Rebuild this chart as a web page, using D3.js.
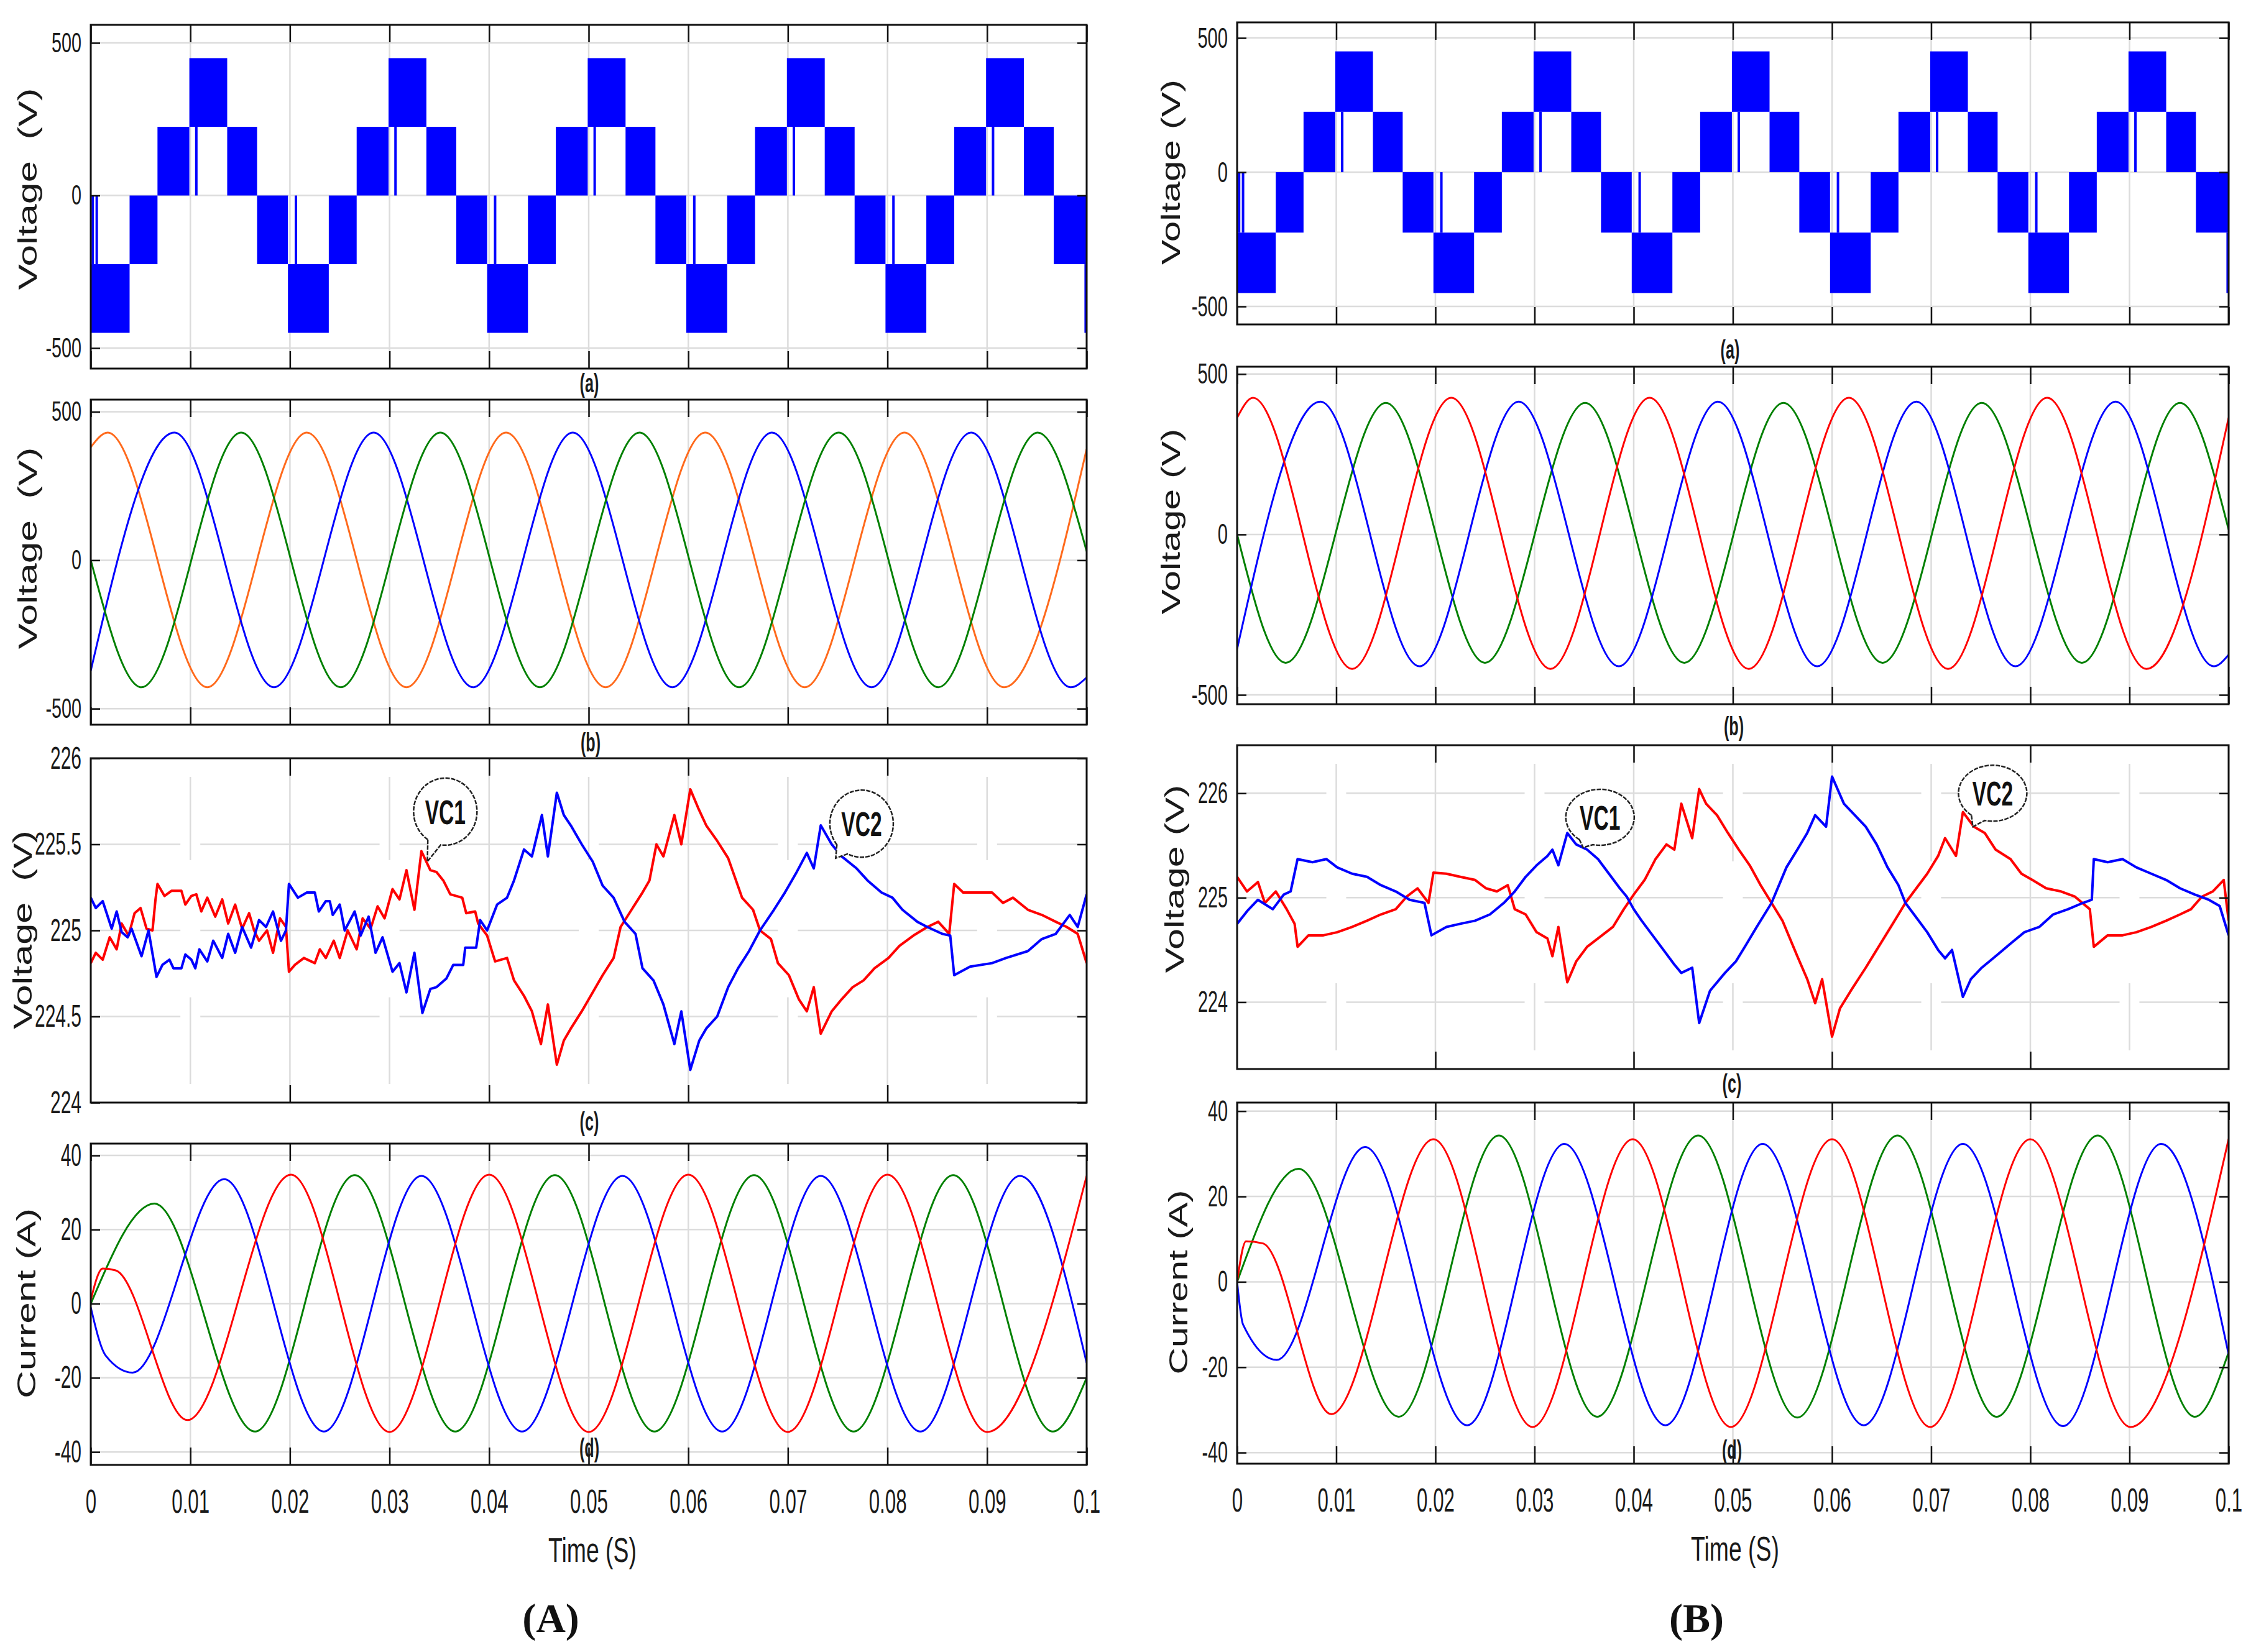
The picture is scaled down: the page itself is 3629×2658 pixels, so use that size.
<!DOCTYPE html>
<html>
<head>
<meta charset="utf-8">
<script src="https://cdn.jsdelivr.net/npm/d3@7"></script>
<style>
  html, body { margin: 0; padding: 0; background: #fff; }
  svg { display: block; }
</style>
</head>
<body>
<div id="chart"></div>
<script>
// ---------- data ----------
const timeTicks  = [0, 0.01, 0.02, 0.03, 0.04, 0.05, 0.06, 0.07, 0.08, 0.09, 0.1];
const timeLabels = ["0", "0.01", "0.02", "0.03", "0.04", "0.05", "0.06", "0.07", "0.08", "0.09", "0.1"];
const capTimeTicks = [0.02, 0.04, 0.06, 0.08];
const voltTicks  = [-500, 0, 500];
const capTicksA  = [224, 224.5, 225, 225.5, 226];
const capTicksB  = [224, 225, 226];
const currTicks  = [-40, -20, 0, 20, 40];

// multilevel inverter output: PWM bands [tStart, tEnd, low level, high level]
const invBands = [
  [0.0000, 0.0039, -450, -225], [0.0039, 0.0067, -225, 0], [0.0067, 0.0099, 0, 225],
  [0.0099, 0.0137, 225, 450],   [0.0137, 0.0167, 0, 225],  [0.0167, 0.0198, -225, 0],
  [0.0198, 0.0239, -450, -225], [0.0239, 0.0267, -225, 0], [0.0267, 0.0299, 0, 225],
  [0.0299, 0.0337, 225, 450],   [0.0337, 0.0367, 0, 225],  [0.0367, 0.0398, -225, 0],
  [0.0398, 0.0439, -450, -225], [0.0439, 0.0467, -225, 0], [0.0467, 0.0499, 0, 225],
  [0.0499, 0.0537, 225, 450],   [0.0537, 0.0567, 0, 225],  [0.0567, 0.0598, -225, 0],
  [0.0598, 0.0639, -450, -225], [0.0639, 0.0667, -225, 0], [0.0667, 0.0699, 0, 225],
  [0.0699, 0.0737, 225, 450],   [0.0737, 0.0767, 0, 225],  [0.0767, 0.0798, -225, 0],
  [0.0798, 0.0839, -450, -225], [0.0839, 0.0867, -225, 0], [0.0867, 0.0899, 0, 225],
  [0.0899, 0.0937, 225, 450],   [0.0937, 0.0967, 0, 225],  [0.0967, 0.1000, -225, 0]
];
// isolated switching spikes [t, from, to]
const invSpikes = [
  [0.0002, -225, 0], [0.0006, -225, 0], [0.0106, 0, 225], [0.0206, -225, 0],
  [0.0306, 0, 225], [0.0406, -225, 0], [0.0506, 0, 225], [0.0606, -225, 0],
  [0.0706, 0, 225], [0.0806, -225, 0], [0.0906, 0, 225], [0.0999, -450, -225]
];

// (b) load voltages, (t, V) at start, extrema, end
const vOrangeA = [[0,381],[0.0017,430],[0.0117,-428],[0.0217,430],[0.0317,-428],[0.0417,430],[0.0517,-428],[0.0617,430],[0.0717,-428],[0.0817,430],[0.0917,-428],[0.1,375]];
const vBlueA   = [[0,-372],[0.0084,430],[0.0184,-428],[0.0284,430],[0.0384,-428],[0.0484,430],[0.0584,-428],[0.0684,430],[0.0784,-428],[0.0884,430],[0.0984,-428],[0.1,-395]];
const vGreenA  = [[0,0],[0.0051,-428],[0.0151,430],[0.0251,-428],[0.0351,430],[0.0451,-428],[0.0551,430],[0.0651,-428],[0.0751,430],[0.0851,-428],[0.0951,430],[0.1,30]];
const vRedB    = [[0,364],[0.0016,426],[0.0116,-419],[0.0216,426],[0.0316,-419],[0.0416,426],[0.0516,-419],[0.0617,426],[0.0717,-419],[0.0817,426],[0.0917,-419],[0.1,364]];
const vBlueB   = [[0,-357],[0.0084,414],[0.0184,-411],[0.0284,414],[0.0385,-411],[0.0485,414],[0.0585,-411],[0.0685,414],[0.0785,-411],[0.0886,414],[0.0985,-411],[0.1,-375]];
const vGreenB  = [[0,0],[0.0049,-400],[0.0150,410],[0.0250,-400],[0.0351,410],[0.0451,-400],[0.0551,410],[0.0651,-400],[0.0751,410],[0.0852,-400],[0.0951,410],[0.1,15]];

// (c) capacitor voltages VC1 / VC2
const vc1A = [[0,224.81],[0.0005,224.87],[0.0012,224.83],[0.0019,224.96],[0.0026,224.89],[0.0031,225.04],[0.0038,224.97],[0.0044,225.10],[0.0050,225.13],[0.0056,225.01],[0.0062,225.00],[0.0065,225.18],[0.0067,225.27],[0.0074,225.20],[0.0081,225.23],[0.0091,225.23],[0.0095,225.15],[0.0101,225.20],[0.0106,225.21],[0.0111,225.11],[0.0117,225.19],[0.0125,225.08],[0.0132,225.18],[0.0138,225.04],[0.0145,225.15],[0.0152,225.01],[0.0159,225.10],[0.0164,225.00],[0.0169,224.94],[0.0177,225.00],[0.0183,224.87],[0.0190,225.07],[0.0196,225.02],[0.0199,224.76],[0.0205,224.80],[0.0214,224.84],[0.0225,224.81],[0.0230,224.89],[0.0236,224.84],[0.0244,224.94],[0.0250,224.84],[0.0258,225.00],[0.0267,224.89],[0.0273,225.07],[0.0281,225.01],[0.0288,225.14],[0.0295,225.07],[0.0303,225.24],[0.0310,225.18],[0.0317,225.35],[0.0325,225.12],[0.0332,225.46],[0.0341,225.35],[0.0347,225.34],[0.0354,225.29],[0.0361,225.21],[0.0373,225.19],[0.0377,225.10],[0.0386,225.11],[0.0389,225.04],[0.0398,224.97],[0.0406,224.82],[0.0418,224.84],[0.0425,224.71],[0.0435,224.62],[0.0443,224.53],[0.0452,224.34],[0.0459,224.57],[0.0468,224.22],[0.0475,224.36],[0.0482,224.43],[0.0493,224.53],[0.0504,224.64],[0.0514,224.74],[0.0525,224.84],[0.0532,225.02],[0.0543,225.12],[0.0554,225.22],[0.0561,225.29],[0.0568,225.50],[0.0575,225.43],[0.0586,225.67],[0.0593,225.50],[0.0602,225.82],[0.0610,225.71],[0.0618,225.61],[0.0629,225.52],[0.0640,225.42],[0.0654,225.19],[0.0665,225.12],[0.0672,225.00],[0.0683,224.95],[0.0690,224.81],[0.0701,224.74],[0.0711,224.60],[0.0719,224.53],[0.0726,224.67],[0.0733,224.40],[0.0744,224.53],[0.0754,224.60],[0.0765,224.67],[0.0776,224.71],[0.0787,224.78],[0.0801,224.84],[0.0812,224.91],[0.0826,224.97],[0.0840,225.02],[0.0851,225.05],[0.0862,224.98],[0.0867,225.27],[0.0876,225.22],[0.0890,225.22],[0.0905,225.22],[0.0916,225.16],[0.0926,225.19],[0.0941,225.12],[0.0955,225.09],[0.0969,225.05],[0.0980,225.02],[0.0991,224.98],[0.1,224.81]];
const vc2A = [[0,225.19],[0.0005,225.13],[0.0012,225.17],[0.0021,225.01],[0.0026,225.11],[0.0031,224.99],[0.0037,224.96],[0.0041,225.01],[0.0051,224.85],[0.0058,225.00],[0.0066,224.73],[0.0072,224.80],[0.0079,224.83],[0.0083,224.78],[0.0091,224.78],[0.0095,224.86],[0.0101,224.83],[0.0105,224.78],[0.0109,224.89],[0.0117,224.82],[0.0123,224.94],[0.0132,224.84],[0.0138,224.98],[0.0145,224.87],[0.0152,225.02],[0.0161,224.90],[0.0169,225.06],[0.0176,225.02],[0.0183,225.11],[0.0191,224.94],[0.0196,225.00],[0.0199,225.27],[0.0208,225.19],[0.0217,225.22],[0.0225,225.22],[0.0229,225.11],[0.0236,225.17],[0.0240,225.17],[0.0243,225.09],[0.0250,225.15],[0.0255,225.00],[0.0265,225.11],[0.0271,224.97],[0.0279,225.08],[0.0286,224.87],[0.0293,224.96],[0.0303,224.76],[0.0310,224.81],[0.0317,224.64],[0.0325,224.87],[0.0333,224.52],[0.0341,224.66],[0.0347,224.67],[0.0357,224.72],[0.0364,224.80],[0.0374,224.80],[0.0376,224.90],[0.0387,224.90],[0.0391,225.06],[0.0398,225.00],[0.0408,225.15],[0.0418,225.19],[0.0425,225.29],[0.0435,225.47],[0.0443,225.43],[0.0453,225.67],[0.0459,225.43],[0.0468,225.80],[0.0475,225.67],[0.0482,225.61],[0.0493,225.50],[0.0504,225.40],[0.0514,225.26],[0.0525,225.19],[0.0536,225.05],[0.0547,224.98],[0.0554,224.78],[0.0565,224.71],[0.0575,224.57],[0.0586,224.34],[0.0593,224.53],[0.0602,224.19],[0.0611,224.36],[0.0618,224.43],[0.0629,224.50],[0.0640,224.67],[0.0650,224.78],[0.0661,224.88],[0.0672,225.00],[0.0686,225.12],[0.0697,225.22],[0.0708,225.33],[0.0719,225.45],[0.0726,225.36],[0.0733,225.61],[0.0744,225.50],[0.0754,225.43],[0.0769,225.36],[0.0780,225.29],[0.0794,225.22],[0.0805,225.19],[0.0815,225.12],[0.0830,225.05],[0.0840,225.02],[0.0855,224.98],[0.0863,224.97],[0.0867,224.74],[0.0883,224.79],[0.0905,224.81],[0.0919,224.84],[0.0941,224.88],[0.0955,224.95],[0.0969,224.98],[0.0983,225.09],[0.0991,225.02],[0.1,225.21]];
const vcRedB = [[0,225.20],[0.0010,225.06],[0.0021,225.15],[0.0028,224.95],[0.0039,225.06],[0.0050,224.89],[0.0058,224.75],[0.0061,224.53],[0.0072,224.64],[0.0087,224.64],[0.0101,224.67],[0.0116,224.72],[0.0131,224.78],[0.0145,224.84],[0.0160,224.89],[0.0171,225.01],[0.0182,225.09],[0.0193,224.95],[0.0198,225.24],[0.0211,225.23],[0.0225,225.20],[0.0240,225.17],[0.0251,225.09],[0.0262,225.06],[0.0273,225.12],[0.0280,224.89],[0.0291,224.84],[0.0302,224.67],[0.0313,224.61],[0.0318,224.44],[0.0324,224.72],[0.0333,224.19],[0.0342,224.39],[0.0353,224.53],[0.0364,224.61],[0.0379,224.72],[0.0390,224.89],[0.0400,225.03],[0.0411,225.17],[0.0422,225.37],[0.0433,225.51],[0.0441,225.46],[0.0448,225.90],[0.0459,225.57],[0.0466,226.04],[0.0473,225.90],[0.0484,225.79],[0.0495,225.62],[0.0506,225.46],[0.0517,225.31],[0.0528,225.12],[0.0539,224.95],[0.0550,224.78],[0.0565,224.44],[0.0575,224.22],[0.0583,223.99],[0.0590,224.22],[0.0600,223.67],[0.0608,223.94],[0.0619,224.11],[0.0634,224.33],[0.0645,224.50],[0.0656,224.67],[0.0667,224.84],[0.0674,224.95],[0.0685,225.09],[0.0696,225.23],[0.0707,225.40],[0.0714,225.57],[0.0725,225.40],[0.0732,225.82],[0.0743,225.68],[0.0754,225.62],[0.0765,225.46],[0.0780,225.37],[0.0791,225.23],[0.0802,225.17],[0.0816,225.09],[0.0831,225.06],[0.0845,225.01],[0.0860,224.89],[0.0864,224.53],[0.0878,224.64],[0.0893,224.64],[0.0907,224.67],[0.0922,224.72],[0.0937,224.78],[0.0951,224.84],[0.0962,224.89],[0.0973,225.01],[0.0984,225.06],[0.0995,225.17],[0.1,224.78]];
const vcBlueB = [[0,224.75],[0.0010,224.87],[0.0021,224.98],[0.0036,224.89],[0.0047,225.03],[0.0054,225.06],[0.0061,225.37],[0.0076,225.34],[0.0090,225.37],[0.0101,225.29],[0.0116,225.23],[0.0131,225.20],[0.0145,225.12],[0.0160,225.06],[0.0174,224.98],[0.0189,224.95],[0.0196,224.64],[0.0211,224.72],[0.0225,224.75],[0.0240,224.78],[0.0255,224.84],[0.0269,224.95],[0.0280,225.06],[0.0291,225.20],[0.0302,225.31],[0.0313,225.40],[0.0318,225.46],[0.0324,225.31],[0.0333,225.62],[0.0342,225.51],[0.0353,225.46],[0.0364,225.37],[0.0375,225.23],[0.0386,225.09],[0.0393,225.01],[0.0400,224.89],[0.0408,224.78],[0.0419,224.64],[0.0430,224.50],[0.0441,224.36],[0.0448,224.28],[0.0459,224.33],[0.0466,223.80],[0.0477,224.11],[0.0492,224.28],[0.0503,224.39],[0.0514,224.56],[0.0524,224.72],[0.0539,224.95],[0.0554,225.29],[0.0565,225.46],[0.0575,225.62],[0.0583,225.79],[0.0594,225.68],[0.0600,226.16],[0.0612,225.90],[0.0623,225.79],[0.0634,225.68],[0.0645,225.51],[0.0656,225.29],[0.0667,225.12],[0.0674,224.95],[0.0685,224.81],[0.0696,224.67],[0.0707,224.50],[0.0714,224.42],[0.0721,224.50],[0.0732,224.05],[0.0740,224.22],[0.0751,224.33],[0.0765,224.44],[0.0780,224.56],[0.0794,224.67],[0.0809,224.72],[0.0823,224.84],[0.0838,224.89],[0.0853,224.95],[0.0862,224.98],[0.0864,225.37],[0.0878,225.34],[0.0893,225.37],[0.0907,225.29],[0.0922,225.23],[0.0937,225.17],[0.0951,225.09],[0.0966,225.03],[0.0980,224.98],[0.0991,224.92],[0.1,224.64]];

// (d) load currents
const iRedA   = [[0,1],[0.0012,9.5],[0.0025,9],[0.0097,-31.4],[0.0201,34.8],[0.0300,-34.6],[0.0400,34.8],[0.0500,-34.6],[0.0600,34.8],[0.0700,-34.6],[0.0800,34.8],[0.0900,-34.6],[0.1,34.5]];
const iGreenA = [[0,0],[0.0064,27],[0.0165,-34.5],[0.0265,34.7],[0.0366,-34.5],[0.0466,34.7],[0.0566,-34.5],[0.0666,34.7],[0.0766,-34.5],[0.0866,34.7],[0.0966,-34.5],[0.1,-20]];
const iBlueA  = [[0,-1],[0.0015,-14],[0.0042,-18.6],[0.0134,33.6],[0.0234,-34.5],[0.0332,34.5],[0.0433,-34.5],[0.0534,34.5],[0.0634,-34.5],[0.0733,34.5],[0.0833,-34.5],[0.0933,34.5],[0.1,-16]];
const iRedB   = [[0,0],[0.0009,9.5],[0.0026,9],[0.0095,-31],[0.0198,33.4],[0.0298,-34],[0.0399,33.4],[0.0498,-34],[0.0600,33.4],[0.0699,-34],[0.0800,33.4],[0.0901,-34],[0.1,33.5]];
const iGreenB = [[0,0],[0.0062,26.5],[0.0163,-31.6],[0.0264,34.3],[0.0363,-31.6],[0.0465,34.3],[0.0565,-31.8],[0.0666,34.3],[0.0766,-31.6],[0.0868,34.3],[0.0966,-31.6],[0.1,-16.5]];
const iBlueB  = [[0,0],[0.0006,-10],[0.0040,-18.3],[0.0129,31.6],[0.0232,-33.6],[0.0330,32.3],[0.0432,-33.6],[0.0530,32.3],[0.0632,-33.6],[0.0732,32.3],[0.0833,-33.8],[0.0932,32.3],[0.1,-17]];

// callouts [label, center t, center v, tip t, tip v]
const calloutsA = [["VC1", 0.0356, 225.69, 0.0338, 225.40], ["VC2", 0.0774, 225.62, 0.0748, 225.42]];
const calloutsB = [["VC1", 0.0366, 225.77, 0.0349, 225.48], ["VC2", 0.0762, 226.00, 0.0742, 225.68]];

// ---------- drawing ----------
const W = 3629, H = 2658;
const FONT = "'Liberation Sans', Arial, sans-serif";
const BLUE = "#0000ff", RED = "#ff0000", GREEN = "#008000", ORANGE = "#ff6a1c";

const svg = d3.select("#chart").append("svg")
  .attr("width", W).attr("height", H).attr("viewBox", `0 0 ${W} ${H}`);
svg.append("rect").attr("width", W).attr("height", H).attr("fill", "#fff");

const colA = {x0: 146, x1: 1748}, colB = {x0: 1990, x1: 3585};

const panels = [
  {...colA, y0: 40, y1: 593, yDomain: [-567, 559], yTicks: voltTicks, kind: "inv",
   title: "Voltage  (V)", tX: 48, tY: 304, tLen: 325, tag: "(a)", tagX: 948, tagY: 616, tf: 45, ts: 0.64},
  {...colA, y0: 643, y1: 1166, yDomain: [-554, 541], yTicks: voltTicks, kind: "lines",
   series: [[vOrangeA, ORANGE], [vBlueA, BLUE], [vGreenA, GREEN]], lw: 3,
   title: "Voltage  (V)", tX: 48, tY: 882, tLen: 325, tag: "(b)", tagX: 950, tagY: 1194, tf: 45, ts: 0.64},
  {...colA, y0: 1220, y1: 1774, yDomain: [224, 226], yTicks: capTicksA, kind: "cap",
   series: [[vc1A, RED], [vc2A, BLUE]], lw: 4, callouts: calloutsA, rx: 51, ry: 54, gap: [224.72, 225.3],
   title: "Voltage  (V)", tX: 40, tY: 1496, tLen: 320, tag: "(c)", tagX: 948, tagY: 1804, tf: 50, ts: 0.6},
  {...colA, y0: 1840, y1: 2357, yDomain: [-43.5, 43.2], yTicks: currTicks, kind: "lines",
   series: [[iGreenA, GREEN], [iBlueA, BLUE], [iRedA, RED]], lw: 3, xLabels: true,
   title: "Current (A)", tX: 46, tY: 2097, tLen: 306, tag: "(d)", tagX: 948, tagY: 2329, tf: 50, ts: 0.6},

  {...colB, y0: 36, y1: 522, yDomain: [-567, 558], yTicks: voltTicks, kind: "inv",
   title: "Voltage (V)", tX: 1887, tY: 277, tLen: 298, tag: "(a)", tagX: 2783, tagY: 562, tf: 47, ts: 0.62},
  {...colB, y0: 590, y1: 1133, yDomain: [-529, 523], yTicks: voltTicks, kind: "lines",
   series: [[vGreenB, GREEN], [vBlueB, BLUE], [vRedB, RED]], lw: 3,
   title: "Voltage (V)", tX: 1887, tY: 839, tLen: 299, tag: "(b)", tagX: 2789, tagY: 1168, tf: 47, ts: 0.62},
  {...colB, y0: 1199, y1: 1720, yDomain: [223.36, 226.46], yTicks: capTicksB, kind: "cap",
   series: [[vcRedB, RED], [vcBlueB, BLUE]], lw: 4, callouts: calloutsB, rx: 55, ry: 45, gap: [224.36, 225.17],
   title: "Voltage (V)", tX: 1893, tY: 1414, tLen: 303, tag: "(c)", tagX: 2786, tagY: 1743, tf: 48, ts: 0.6},
  {...colB, y0: 1774, y1: 2355, yDomain: [-42.6, 42], yTicks: currTicks, kind: "lines",
   series: [[iGreenB, GREEN], [iBlueB, BLUE], [iRedB, RED]], lw: 3, xLabels: true,
   title: "Current (A)", tX: 1899, tY: 2063, tLen: 297, tag: "(d)", tagX: 2786, tagY: 2332, tf: 48, ts: 0.6}
];

function condensed(g, text, x, y, size, sx, anchor) {
  return g.append("text")
    .attr("transform", `translate(${x},${y}) scale(${sx},1)`)
    .attr("text-anchor", anchor || "middle")
    .attr("font-family", FONT).attr("font-size", size).attr("fill", "#1a1a1a")
    .text(text);
}

function drawPanel(p, i) {
  const x = d3.scaleLinear().domain([0, 0.1]).range([p.x0, p.x1]);
  const y = d3.scaleLinear().domain(p.yDomain).range([p.y1, p.y0]);
  const g = svg.append("g");
  const clipId = "clip" + i;
  g.append("clipPath").attr("id", clipId).append("rect")
    .attr("x", p.x0).attr("y", p.y0).attr("width", p.x1 - p.x0).attr("height", p.y1 - p.y0);

  // grid
  const grid = g.append("g").attr("stroke", "#dcdcdc").attr("stroke-width", 2.5)
    .attr("clip-path", `url(#${clipId})`);
  if (p.kind === "cap") {
    const odd = timeTicks.filter((d, k) => k % 2 === 1);
    const even = timeTicks.filter((d, k) => k % 2 === 0);
    grid.selectAll(null).data(even).join("line")
      .attr("x1", d => x(d)).attr("x2", d => x(d)).attr("y1", p.y0).attr("y2", p.y1);
    grid.selectAll(null).data(odd.flatMap(d => [[d, p.yDomain[1], p.gap[1]], [d, p.gap[0], p.yDomain[0]]])).join("line")
      .attr("x1", d => x(d[0])).attr("x2", d => x(d[0])).attr("y1", d => y(d[1]) + 30).attr("y2", d => y(d[2]) - 30);
    const gw = 0.001;
    const starts = [0, ...odd.map(d => d + gw)], ends = [...odd.map(d => d - gw), 0.1];
    const segs = p.yTicks.flatMap(v => starts.map((s, k) => [s, ends[k], v]));
    grid.selectAll(null).data(segs).join("line")
      .attr("x1", d => x(d[0])).attr("x2", d => x(d[1])).attr("y1", d => y(d[2])).attr("y2", d => y(d[2]));
  } else {
    grid.selectAll(null).data(timeTicks).join("line")
      .attr("x1", d => x(d)).attr("x2", d => x(d)).attr("y1", p.y0).attr("y2", p.y1);
    grid.selectAll(null).data(p.yTicks).join("line")
      .attr("x1", p.x0).attr("x2", p.x1).attr("y1", d => y(d)).attr("y2", d => y(d));
  }

  // data
  const plot = g.append("g").attr("clip-path", `url(#${clipId})`);
  if (p.kind === "inv") {
    plot.selectAll(null).data(invBands).join("rect")
      .attr("x", d => x(d[0])).attr("width", d => x(d[1]) - x(d[0]))
      .attr("y", d => y(d[3])).attr("height", d => y(d[2]) - y(d[3]))
      .attr("fill", BLUE);
    plot.selectAll(null).data(invSpikes).join("line")
      .attr("x1", d => x(d[0])).attr("x2", d => x(d[0]))
      .attr("y1", d => y(d[1])).attr("y2", d => y(d[2]))
      .attr("stroke", BLUE).attr("stroke-width", 4);
  } else {
    const line = d3.line().x(d => x(d[0])).y(d => y(d[1]))
      .curve(p.kind === "cap" ? d3.curveLinear : d3.curveMonotoneX);
    p.series.forEach(([data, color]) => {
      plot.append("path").datum(data).attr("d", line)
        .attr("fill", "none").attr("stroke", color).attr("stroke-width", p.lw)
        .attr("stroke-linejoin", "round");
    });
  }

  // frame
  g.append("rect").attr("x", p.x0).attr("y", p.y0)
    .attr("width", p.x1 - p.x0).attr("height", p.y1 - p.y0)
    .attr("fill", "none").attr("stroke", "#111").attr("stroke-width", 3);

  // axes (ticks inside the frame)
  const xt = p.kind === "cap" ? capTimeTicks : timeTicks;
  const style = a => a.call(s => s.select(".domain").remove())
    .call(s => s.selectAll("line").attr("stroke", "#111").attr("stroke-width", 2.5));

  const left = g.append("g").attr("transform", `translate(${p.x0},0)`)
    .call(d3.axisLeft(y).tickValues(p.yTicks).tickSizeInner(-15).tickSizeOuter(0)
      .tickPadding(15).tickFormat(d => String(d)));
  style(left);
  left.attr("font-family", FONT).attr("font-size", p.tf);
  left.selectAll("text").attr("fill", "#1a1a1a")
    .attr("x", -15 / p.ts).attr("transform", `scale(${p.ts},1)`);

  style(g.append("g").attr("transform", `translate(${p.x1},0)`)
    .call(d3.axisRight(y).tickValues(p.yTicks).tickSizeInner(-15).tickSizeOuter(0).tickFormat("")));
  style(g.append("g").attr("transform", `translate(0,${p.y0})`)
    .call(d3.axisTop(x).tickValues(xt).tickSizeInner(-28).tickSizeOuter(0).tickFormat("")));
  const bottom = g.append("g").attr("transform", `translate(0,${p.y1})`)
    .call(d3.axisBottom(x).tickValues(xt).tickSizeInner(-28).tickSizeOuter(0)
      .tickPadding(39).tickFormat((d, k) => p.xLabels ? timeLabels[k] : ""));
  style(bottom);
  bottom.attr("font-family", FONT).attr("font-size", 53);
  bottom.selectAll("text").attr("fill", "#1a1a1a").attr("transform", "scale(0.59,1)");

  // callouts
  if (p.callouts) {
    p.callouts.forEach(([label, ct, cv, tt, tv]) => {
      const cx = x(ct), cy = y(cv), px = x(tt), py = y(tv);
      const phi = Math.atan2((py - cy) / p.ry, (px - cx) / p.rx), dl = 0.22;
      const b1 = [cx + p.rx * Math.cos(phi - dl), cy + p.ry * Math.sin(phi - dl)];
      const b2 = [cx + p.rx * Math.cos(phi + dl), cy + p.ry * Math.sin(phi + dl)];
      g.append("path")
        .attr("d", `M${b2[0]},${b2[1]} A${p.rx},${p.ry} 0 1 1 ${b1[0]},${b1[1]} L${px},${py} Z`)
        .attr("fill", "#fff").attr("stroke", "#222").attr("stroke-width", 2.5)
        .attr("stroke-dasharray", "7,2");
      condensed(g, label, cx, cy + 20, 56, 0.6).attr("font-weight", "bold").attr("fill", "#111");
    });
  }

  // axis title
  g.append("text")
    .attr("transform", `translate(${p.tX + 11},${p.tY}) rotate(-90)`)
    .attr("text-anchor", "middle").attr("font-family", FONT).attr("font-size", 42)
    .attr("fill", "#1a1a1a").attr("textLength", p.tLen).attr("lengthAdjust", "spacingAndGlyphs")
    .style("white-space", "pre")
    .text(p.title);

  // sub-figure tag
  condensed(g, p.tag, p.tagX, p.tagY + 15, 42, 0.6).attr("font-weight", "bold");
}

panels.forEach(drawPanel);

// column captions
condensed(svg, "Time (S)", 953, 2513, 55, 0.68);
condensed(svg, "Time (S)", 2791, 2511, 55, 0.68);
[["(A)", 886], ["(B)", 2729]].forEach(([t, cx]) => {
  svg.append("text").attr("x", cx).attr("y", 2626).attr("text-anchor", "middle")
    .attr("font-family", "'Liberation Serif', 'Times New Roman', serif")
    .attr("font-weight", "bold").attr("font-size", 66).attr("fill", "#111").text(t);
});
</script>
</body>
</html>
